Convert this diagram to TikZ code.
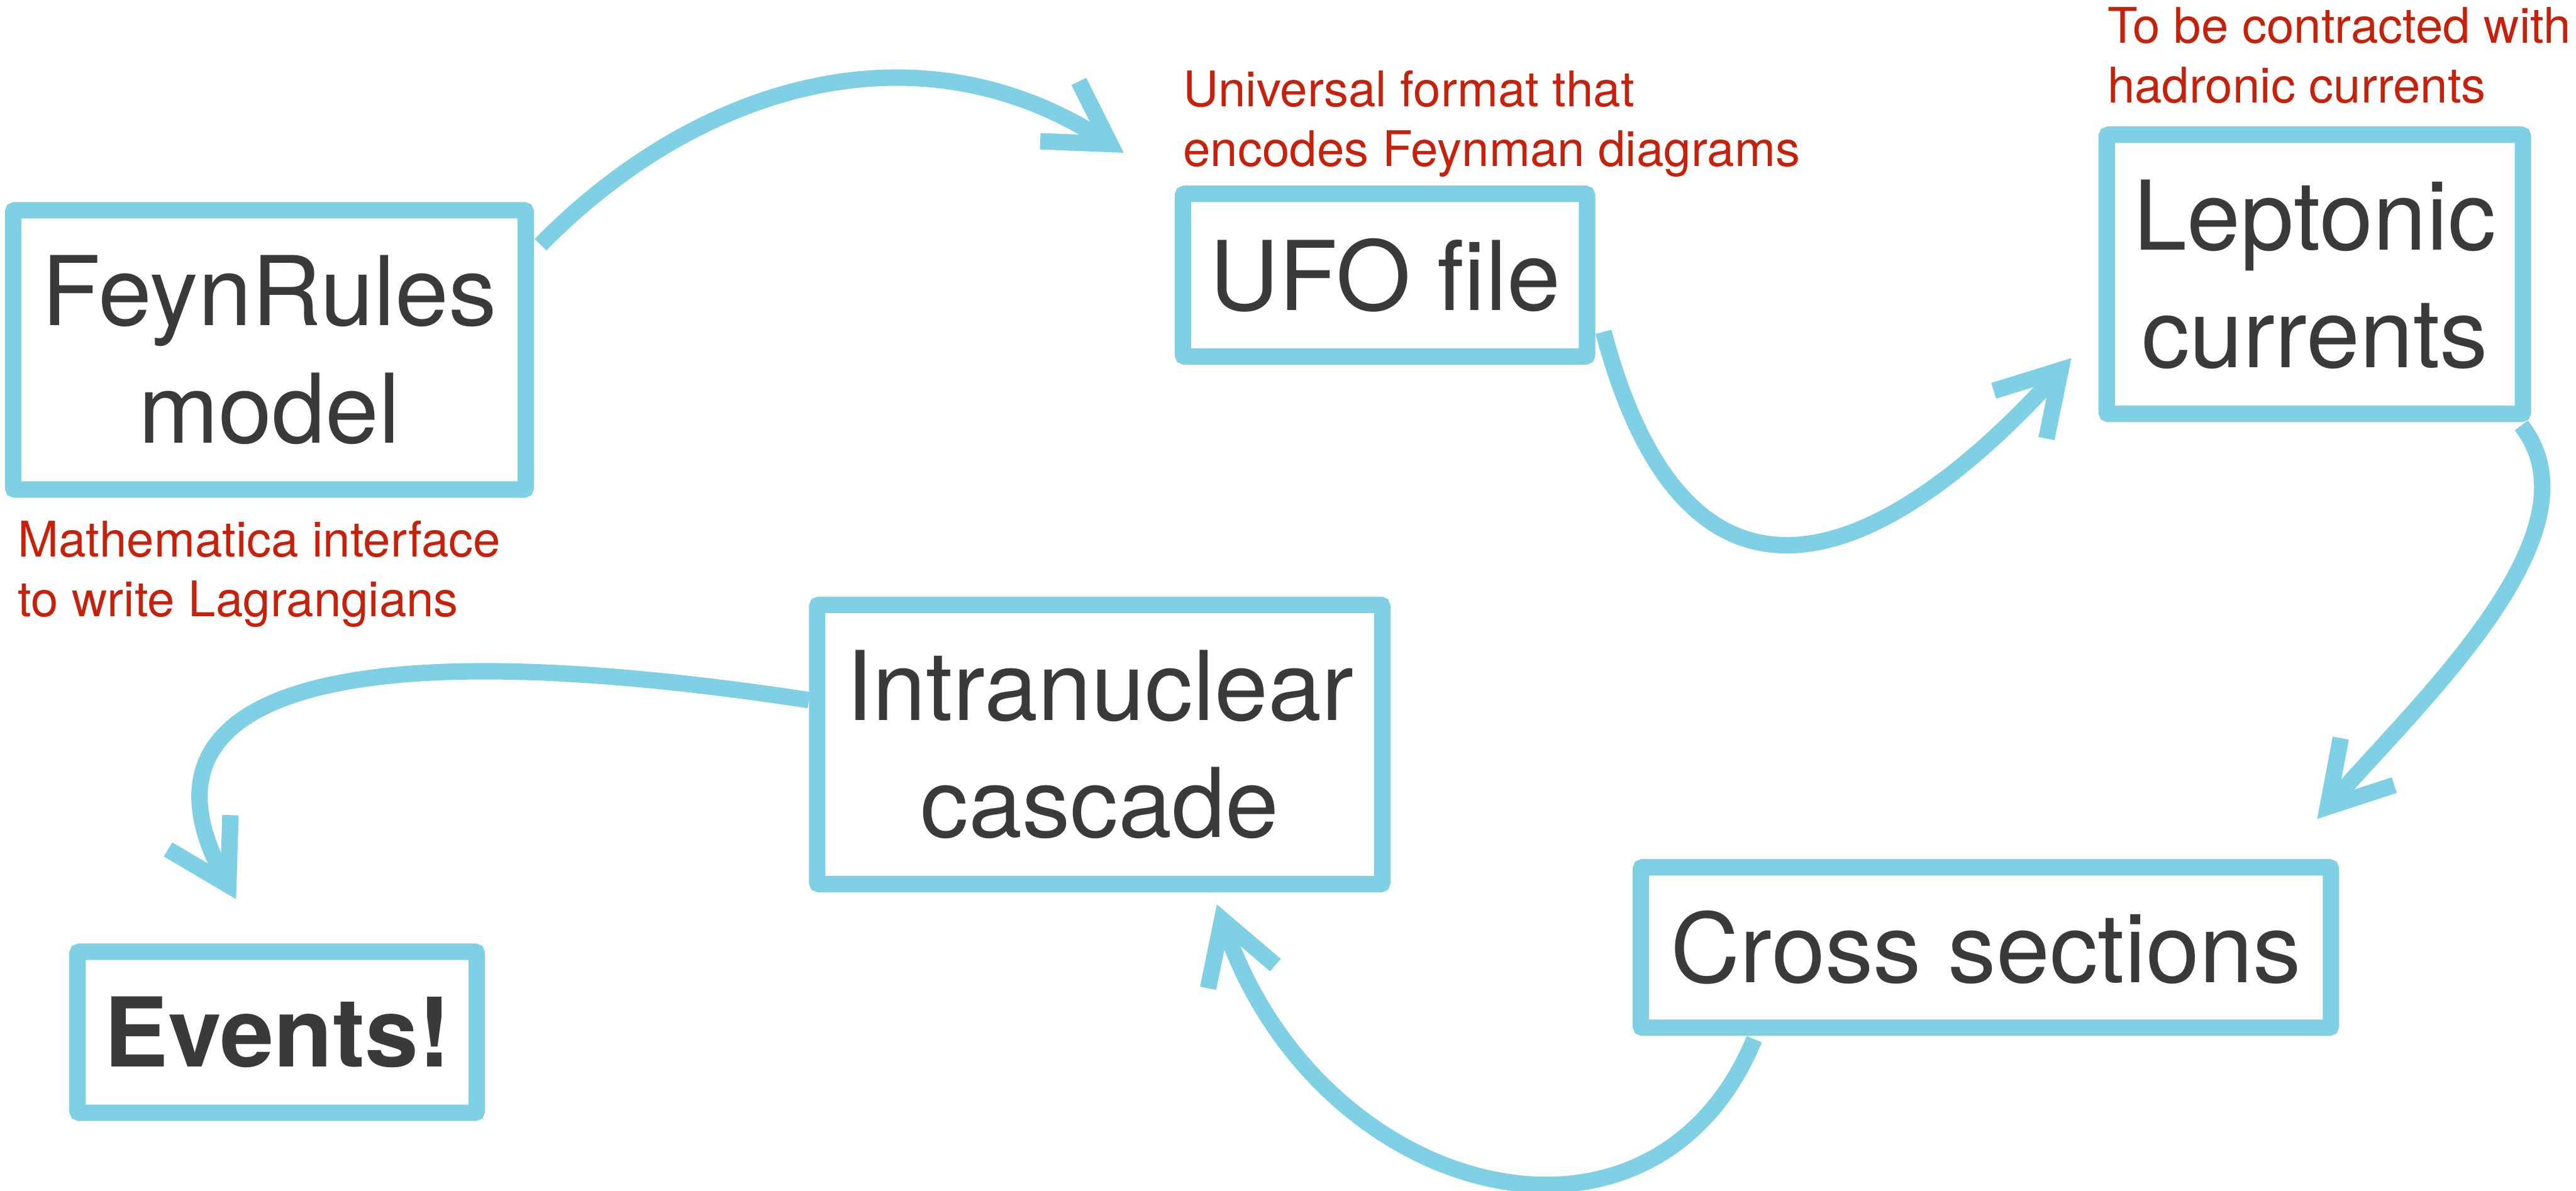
\documentclass[tikz,border=0pt]{standalone}
\usepackage{fontspec}
\setmainfont{TeX Gyre Heros}
\usetikzlibrary{arrows.meta,calc}
\definecolor{skyblue}{RGB}{127,208,228}
\definecolor{ink}{RGB}{58,58,58}
\definecolor{note}{RGB}{199,33,12}
\begin{document}
\begin{tikzpicture}[x=0.03cm,y=-0.03cm,
  stage/.style={draw=skyblue,line width=0.3cm,fill=white,text=ink,align=center,inner sep=0pt,
    rounded corners=1pt,font=\fontsize{50}{61}\selectfont},
  remark/.style={text=note,align=left,inner sep=0pt,anchor=north west,font=\fontsize{25.5}{31}\selectfont},
  flow/.style={skyblue,line width=0.3cm,-{Straight Barb[length=1.1cm,width=1.3cm]}}]
\useasboundingbox (0,0) rectangle (1568,725);
\node[stage,minimum width=9.36cm,minimum height=5.1cm] (feyn) at (164,213) {FeynRules\\model};
\node[stage,minimum width=7.38cm,minimum height=2.97cm] (ufo) at (843,167.5) {UFO file};
\node[stage,minimum width=7.6cm,minimum height=5.1cm] (lep) at (1409,167) {Leptonic\\currents};
\node[stage,minimum width=12.6cm,minimum height=2.93cm] (cross) at (1208.8,576.8) {Cross sections};
\node[stage,minimum width=10.32cm,minimum height=5.1cm] (intra) at (669.4,453.2) {Intranuclear\\cascade};
\node[stage,minimum width=7.29cm,minimum height=2.94cm,font=\fontsize{50}{61}\selectfont\bfseries] (events) at (168.7,628.4) {Events!};
\node[remark] (feynnote) at (10.7,316.8) {Mathematica interface\\to write Lagrangians};
\node[remark] (ufonote) at (720,42.7) {Universal format that\\encodes Feynman diagrams};
\node[remark] (lepnote) at (1282.6,4.1) {To be contracted with\\hadronic currents};
\draw[flow] ($(feyn.north east)+(4,26)$) .. controls +(94,-96) and +(-127,-82) .. ($(ufo.north west)+(-31,-20)$);
\draw[flow] ($(ufo.south east)+(5,-20)$) .. controls +(54,203) and +(-106,117) .. ($(lep.south west)+(-16.5,-39)$);
\draw[flow] ($(lep.south east)+(-6,2)$) .. controls +(50,64) and +(65,-74) .. ($(cross.north east)+(-13.4,-24.4)$);
\draw[flow] ($(cross.south west)+(74,2)$) .. controls +(-62,150) and +(62,180) .. ($(intra.south)+(71.3,7.4)$);
\draw[flow] ($(intra.west)+(0,-27)$) .. controls +(-303,-46) and +(-66,-120) .. ($(events.north)+(-25,-27)$);
\end{tikzpicture}
\end{document}
